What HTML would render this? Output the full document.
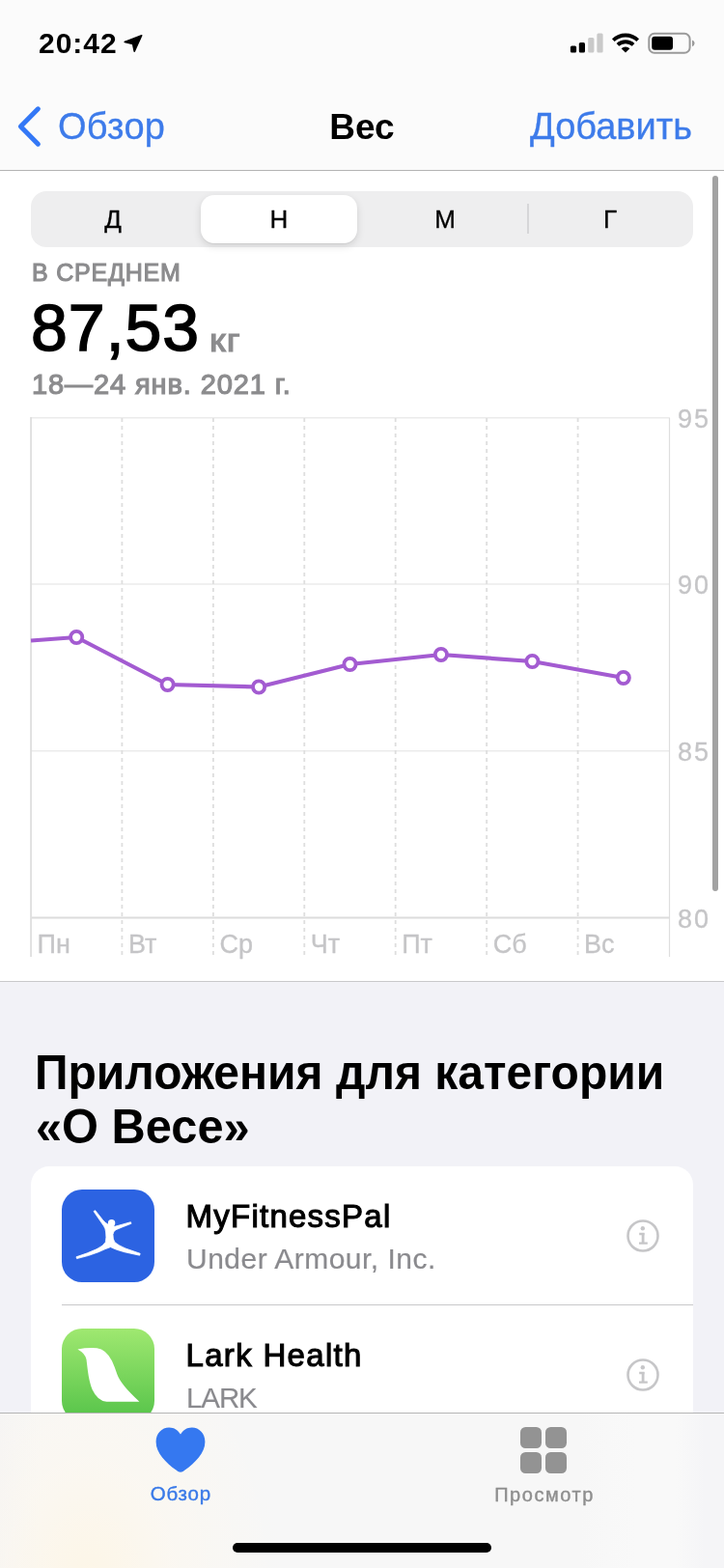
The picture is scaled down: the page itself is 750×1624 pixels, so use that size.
<!DOCTYPE html>
<html lang="ru">
<head>
<meta charset="utf-8">
<title>Вес</title>
<style>
*{box-sizing:border-box;margin:0;padding:0}
html,body{width:750px;height:1624px;overflow:hidden;background:#f2f2f7}
body{position:relative;font-family:"Liberation Sans",sans-serif;color:#000;-webkit-font-smoothing:antialiased}
.abs{position:absolute}
.t{position:absolute;white-space:nowrap;line-height:1}
#nav{left:0;top:0;width:750px;height:177px;background:#fbfbfb;border-bottom:1px solid #b4b4b4}
#main{left:0;top:177px;width:750px;height:840px;background:#fff;border-bottom:1px solid #c9c9cb}
#seg{left:32px;top:198px;width:686px;height:58px;border-radius:16px;background:#eeeeef}
#segsel{left:208px;top:202px;width:162px;height:50px;border-radius:14px;background:#fff;box-shadow:0 3px 8px rgba(0,0,0,.12),0 1px 1px rgba(0,0,0,.06)}
.sl{font-size:26px;top:214px;width:60px;text-align:center;-webkit-text-stroke:.3px #000}
#card{left:32px;top:1208px;width:686px;height:300px;border-radius:19px;background:#fff}
#tab{left:0;top:1463px;width:750px;height:161px;border-top:1px solid #b5b5b5;background:radial-gradient(ellipse 200px 300px at 92px 185px,rgba(255,245,224,.75),rgba(255,248,235,.45) 45%,rgba(255,250,240,0) 100%),linear-gradient(90deg,#f4f4f6 0,#f7f7f7 40px,#f7f7f7 600px,#f9f9f9 660px,#f9f9f9 700px,#f5f5f7 730px)}
#home{left:241px;top:1598px;width:268px;height:10px;border-radius:5px;background:#000}
#scroll{left:738px;top:182px;width:6px;height:741px;border-radius:3px;background:#a2a2a2}
</style>
</head>
<body>
<div class="abs" id="main"></div>
<div class="abs" id="nav"></div>

<!-- status bar -->
<div class="t" id="time" style="left:40px;top:30px;font-size:30px;font-weight:bold;letter-spacing:1px">20:42</div>
<svg class="abs" style="left:126px;top:34px" width="24" height="24" viewBox="0 0 24 24"><path d="M20.700 2.700 L3.200 9.400 L11.600 11.400 L13.200 19.200 Z" fill="#000" stroke="#000" stroke-width="1.6" stroke-linejoin="round"/></svg>
<svg class="abs" style="left:588px;top:30px" width="136" height="30" viewBox="0 0 136 30">
  <rect x="2.900" y="17.600" width="6.200" height="6.800" rx="1.500" fill="#000"/>
  <rect x="11.800" y="14" width="6.200" height="10.400" rx="1.500" fill="#000"/>
  <rect x="21.200" y="9" width="6.200" height="15.400" rx="1.500" fill="#c9c9c9"/>
  <rect x="30.400" y="4.400" width="6.200" height="20" rx="1.500" fill="#c9c9c9"/>
  <g fill="none" stroke="#000" stroke-width="3.900" stroke-linecap="butt">
    <path d="M47.3 11.6 A18.5 18.5 0 0 1 72.7 11.6"/>
    <path d="M51.9 16.4 A12 12 0 0 1 68.1 16.4"/>
  </g>
  <path d="M60 24.6 L55.6 20.2 A6.3 6.3 0 0 1 64.4 20.2 Z" fill="#000"/>
  <rect x="84.300" y="4.800" width="42.300" height="20" rx="5.600" fill="none" stroke="#9a9a9a" stroke-width="2"/>
  <rect x="87.200" y="7.800" width="21.800" height="14" rx="3" fill="#000"/>
  <path d="M129 11.4 Q131.6 12.4 131.6 14.8 Q131.6 17.2 129 18.2 Z" fill="#9a9a9a"/>
</svg>

<!-- nav -->
<svg class="abs" style="left:14px;top:106px" width="34" height="50" viewBox="0 0 34 50"><path d="M25.400 6.800 L7.400 25 L25.400 43.200" fill="none" stroke="#3478f6" stroke-width="5" stroke-linecap="round" stroke-linejoin="round"/></svg>
<div class="t" id="back" style="left:60px;top:112px;font-size:38px;color:#3d7bea;letter-spacing:.3px;-webkit-text-stroke:.3px #3d7bea">Обзор</div>
<div class="t" id="title" style="left:0;width:750px;text-align:center;top:113px;font-size:37px;font-weight:bold">Вес</div>
<div class="t" id="add" style="right:33px;top:112px;font-size:38px;color:#3d7bea;-webkit-text-stroke:.3px #3d7bea">Добавить</div>

<!-- segmented -->
<div class="abs" id="seg"></div>
<div class="abs" id="segsel"></div>
<div class="abs" style="left:546px;top:211px;width:2px;height:31px;background:#d6d6d8"></div>
<div class="t sl" style="left:87px">Д</div>
<div class="t sl" style="left:259px">Н</div>
<div class="t sl" style="left:431px">М</div>
<div class="t sl" style="left:602px">Г</div>

<!-- summary -->
<div class="t" id="avg" style="left:33px;top:270px;font-size:25px;color:#8c8c8e;letter-spacing:.8px;-webkit-text-stroke:1.1px #8c8c8e">В СРЕДНЕМ</div>
<div class="t" id="val" style="left:32px;top:305px;font-size:68px;-webkit-text-stroke:1.5px #000;letter-spacing:1px">87,53</div>
<div class="t" id="unit" style="left:217px;top:334.500px;font-size:34px;letter-spacing:1px;color:#8c8c8e;-webkit-text-stroke:1.2px #8c8c8e;transform-origin:0 0;transform:scaleX(1.12)">кг</div>
<div class="t" id="date" style="left:33px;top:384px;font-size:29px;color:#8c8c8e;letter-spacing:.9px;-webkit-text-stroke:1.2px #8c8c8e">18—24 янв. 2021 г.</div>

<!-- chart -->
<svg class="abs" id="chart" style="left:0;top:420px" width="750" height="580" viewBox="0 420 750 580">
  <g stroke="#ebebeb" stroke-width="1.6">
    <line x1="32" y1="432.800" x2="694" y2="432.800"/>
    <line x1="32" y1="605" x2="694" y2="605"/>
    <line x1="32" y1="777.700" x2="694" y2="777.700"/>
  </g>
  <line x1="693.500" y1="433" x2="693.500" y2="991" stroke="#dedede" stroke-width="1.200"/>
  <g stroke="#dedede" stroke-width="1.800" stroke-dasharray="4 4">
    <line x1="126.4" y1="433" x2="126.4" y2="991"/>
    <line x1="220.9" y1="433" x2="220.9" y2="991"/>
    <line x1="315.3" y1="433" x2="315.3" y2="991"/>
    <line x1="409.7" y1="433" x2="409.7" y2="991"/>
    <line x1="504.2" y1="433" x2="504.2" y2="991"/>
    <line x1="598.6" y1="433" x2="598.6" y2="991"/>
  </g>
  <g stroke="#dcdcdc">
    <line x1="32" y1="950.500" x2="694" y2="950.500" stroke-width="1.800"/>
    <line x1="32.100" y1="432" x2="32.100" y2="991" stroke-width="1.900" stroke="#dfdfdf"/>
  </g>
  <polyline points="32.0,663.5 79.2,660 173.6,709 268.1,711.5 362.5,688 456.9,678 551.4,685 645.8,702" fill="none" stroke="#a35bd1" stroke-width="4.200" stroke-linejoin="round"/>
  <g fill="#fff" stroke="#a35bd1" stroke-width="3.800">
    <circle cx="79.2" cy="660" r="6.1"/><circle cx="173.6" cy="709" r="6.1"/><circle cx="268.1" cy="711.5" r="6.1"/><circle cx="362.5" cy="688" r="6.1"/><circle cx="456.9" cy="678" r="6.1"/><circle cx="551.4" cy="685" r="6.1"/><circle cx="645.8" cy="702" r="6.1"/>
  </g>
  <g font-family="Liberation Sans, sans-serif" font-size="27" fill="#c5c5c7" stroke="#c5c5c7" stroke-width=".3">
    <text x="702" y="443" textLength="32">95</text>
    <text x="702" y="615" textLength="32">90</text>
    <text x="702" y="787.500" textLength="32">85</text>
    <text x="702" y="960.500" textLength="32">80</text>
    <text x="38.5" y="986.5">Пн</text>
    <text x="132.9" y="986.5">Вт</text>
    <text x="227.4" y="986.5">Ср</text>
    <text x="321.8" y="986.5">Чт</text>
    <text x="416.2" y="986.5">Пт</text>
    <text x="510.7" y="986.5">Сб</text>
    <text x="605.1" y="986.5">Вс</text>
  </g>
</svg>

<!-- apps heading -->
<div class="t" id="h1" style="left:36px;top:1085.800px;font-size:49.500px;font-weight:bold;letter-spacing:0;transform-origin:0 0;transform:scaleX(.97)">Приложения для категории</div>
<div class="t" id="h2" style="left:37px;top:1141.700px;font-size:49.500px;font-weight:bold;letter-spacing:0;transform-origin:0 0;transform:scaleX(.985)">«О Весе»</div>

<!-- card -->
<div class="abs" id="card"></div>
<div class="abs" id="ic1" style="left:64px;top:1232px;width:96px;height:96px;border-radius:21px;background:#2c63e2"></div>
<svg class="abs" style="left:64px;top:1232px" width="96" height="96" viewBox="0 0 96 96">
  <path d="M33 22.600 L34.700 21.700 L42.500 31.600 Q45.500 35.200 47.400 35.800 L55 38.300 L62.500 36.200 L71.400 33.700 L72 35.300 L63 38.800 L56 41.700 Q53.200 43.200 53 46.500 Q52.800 51.500 54.800 54.500 Q58.500 57.800 66 61 L81.200 66.300 L80.600 68.200 L65 64.800 Q56 62.500 50.500 59.600 Q45 61.500 38 64.800 Q28 68.800 15.600 71.600 L15 69.800 Q27 66 36 61.800 Q43.500 58.200 45.300 54.500 Q46.400 50 45.600 44 Q45.300 40.500 43.500 37.800 Z" fill="#fff" stroke="#fff" stroke-width=".8" stroke-linejoin="round"/>
  <circle cx="51.600" cy="34.800" r="3.700" fill="#fff"/>
</svg>
<div class="t" id="a1" style="left:192.500px;top:1243px;font-size:33px;-webkit-text-stroke:1.1px #000;letter-spacing:1.25px">MyFitnessPal</div>
<div class="t" id="a1s" style="left:193px;top:1289px;font-size:30px;color:#8a8a8e;letter-spacing:.48px;-webkit-text-stroke:.2px #8a8a8e">Under Armour, Inc.</div>
<svg class="abs info" style="left:648px;top:1262px" width="36" height="36" viewBox="0 0 36 36"><circle cx="18" cy="18" r="15.500" fill="none" stroke="#c6c6c8" stroke-width="2.600"/><circle cx="17.800" cy="10.200" r="2.200" fill="#c6c6c8"/><path d="M14.200 16 H19.500 M14 25.700 H22.800" fill="none" stroke="#c6c6c8" stroke-width="2.300"/><path d="M18.100 15 V25.600" fill="none" stroke="#c6c6c8" stroke-width="2.800"/></svg>
<div class="abs" style="left:64px;top:1351px;width:654px;height:1px;background:#c8c8ca"></div>
<div class="abs" id="ic2" style="left:64px;top:1376px;width:96px;height:96px;border-radius:21px;background:linear-gradient(#9fe870,#55c349)"></div>
<svg class="abs" style="left:64px;top:1376px" width="96" height="96" viewBox="0 0 96 96">
  <path d="M16.400 21.400 Q26 19.600 36.400 20.200 Q46 21.500 52 33.500 Q55 40 57.400 47.600 Q61 58 80.400 75.800 L46.500 75.800 Q37 75 31.500 63 Q28.500 56 26.800 42.800 L25.500 32 Q24.500 25.800 16.400 21.400 Z" fill="#fff"/>
</svg>
<div class="t" id="a2" style="left:192.500px;top:1387px;font-size:33px;-webkit-text-stroke:1.1px #000;letter-spacing:1.32px">Lark Health</div>
<div class="t" id="a2s" style="left:193px;top:1432.500px;font-size:29.500px;color:#8a8a8e;letter-spacing:-1.1px;-webkit-text-stroke:.15px #8a8a8e">LARK</div>
<svg class="abs info" style="left:648px;top:1406px" width="36" height="36" viewBox="0 0 36 36"><circle cx="18" cy="18" r="15.500" fill="none" stroke="#c6c6c8" stroke-width="2.600"/><circle cx="17.800" cy="10.200" r="2.200" fill="#c6c6c8"/><path d="M14.200 16 H19.500 M14 25.700 H22.800" fill="none" stroke="#c6c6c8" stroke-width="2.300"/><path d="M18.100 15 V25.600" fill="none" stroke="#c6c6c8" stroke-width="2.800"/></svg>

<!-- tab bar -->
<div class="abs" id="tab"></div>
<svg class="abs" style="left:158px;top:1474px" width="58" height="56" viewBox="0 0 58 56"><path d="M29 50.800 C27.600 50.800 26.200 50 24.400 48.600 C14 40.800 3.600 31.200 3.600 19.200 C3.600 10.600 9.600 4.400 17.200 4.400 C22.400 4.400 26.600 7.200 29 11.600 C31.400 7.200 35.600 4.400 40.800 4.400 C48.400 4.400 54.400 10.600 54.400 19.200 C54.400 31.200 44 40.800 33.600 48.600 C31.800 50 30.400 50.800 29 50.800 Z" fill="#3578f0"/></svg>
<div class="t" id="tl1" style="left:127.400px;width:120px;text-align:center;top:1537px;font-size:20.500px;color:#3a7ae8;letter-spacing:.8px;-webkit-text-stroke:.4px #3a7ae8">Обзор</div>
<svg class="abs" style="left:539px;top:1478px" width="48" height="48" viewBox="0 0 48 48"><g fill="#939393"><rect x="0" y="0" width="22" height="22" rx="5.5"/><rect x="26" y="0" width="22" height="22" rx="5.5"/><rect x="0" y="26" width="22" height="22" rx="5.5"/><rect x="26" y="26" width="22" height="22" rx="5.5"/></g></svg>
<div class="t" id="tl2" style="left:484px;width:160px;text-align:center;top:1537.800px;font-size:20px;color:#8e8e8e;letter-spacing:1.55px;-webkit-text-stroke:.4px #8e8e8e">Просмотр</div>
<div class="abs" id="home"></div>
<div class="abs" id="scroll"></div>
</body>
</html>
